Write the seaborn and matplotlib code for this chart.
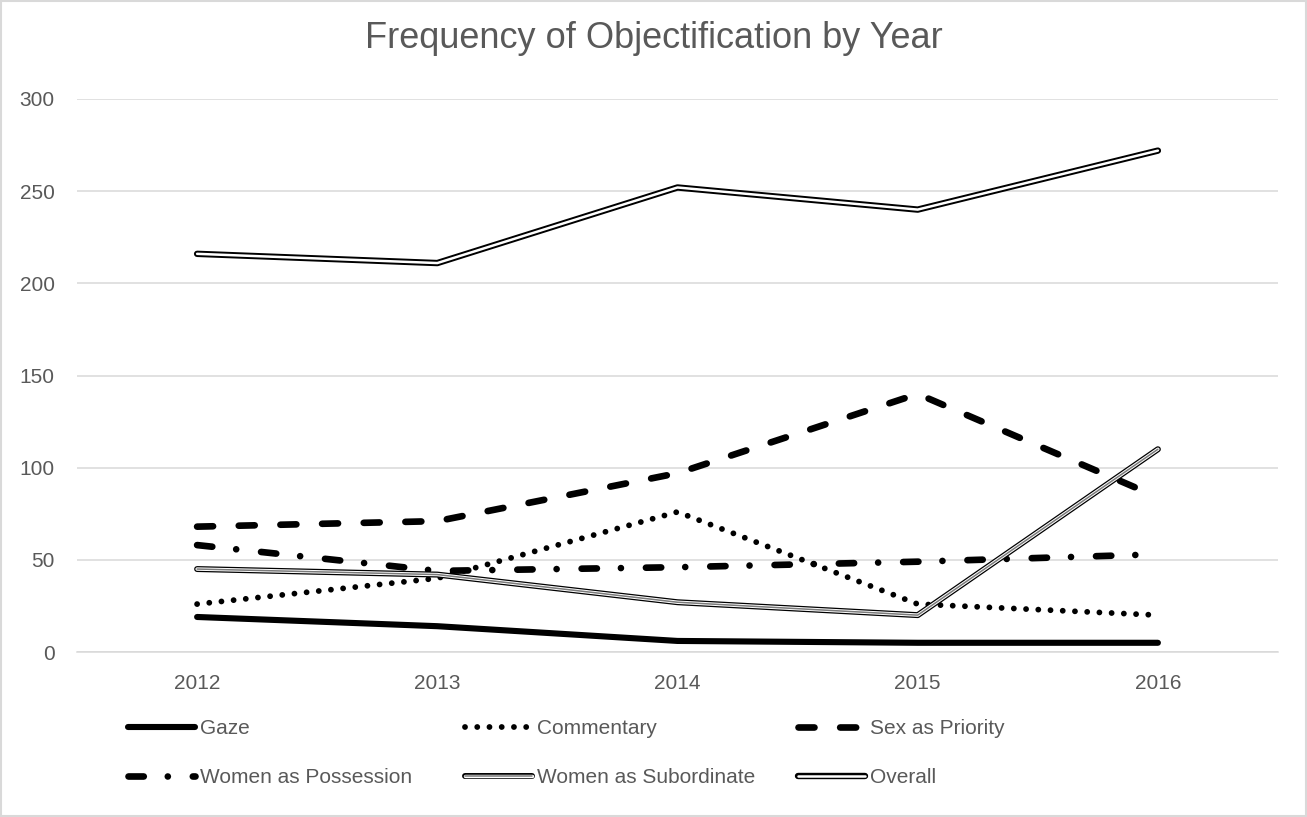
import matplotlib
matplotlib.use("Agg")
import matplotlib.pyplot as plt
from matplotlib.lines import Line2D
from matplotlib.patches import Rectangle
import seaborn as sns
import pandas as pd

years = ["2012", "2013", "2014", "2015", "2016"]
gaze = [19, 14, 6, 5, 5]
commentary = [26, 40, 76, 26, 20]
sex_priority = [68, 71, 97, 140, 84]
women_possession = [58, 44, 46, 49, 53]
women_subordinate = [45, 42, 27, 20, 110]
overall = [216, 211, 252, 240, 272]

title = "Frequency of Objectification by Year"
yticks = [0, 50, 100, 150, 200, 250, 300]

sns.set_theme(style="white")
plt.rcParams["font.family"] = ["Liberation Sans", "DejaVu Sans"]
plt.rcParams["lines.scale_dashes"] = False

TXT = "#595959"
GRID = "#d9d9d9"

fig = plt.figure(figsize=(13.07, 8.17), dpi=100)
ax = fig.add_axes([77/1307, 1-652/817, (1278-77)/1307, (652-99)/817])

df = pd.DataFrame({"year": years, "Gaze": gaze, "Commentary": commentary,
                   "Sex as Priority": sex_priority,
                   "Women as Possession": women_possession,
                   "Women as Subordinate": women_subordinate,
                   "Overall": overall})

styles = {
    "Gaze": [dict(color="black", lw=4.4, solid_capstyle="round")],
    "Commentary": [dict(color="black", lw=4.2, linestyle=(0, (0.01, 8.8)), dash_capstyle="round")],
    "Sex as Priority": [dict(color="black", lw=4.8, linestyle=(0, (11.5, 18.5)), dash_capstyle="round")],
    "Women as Possession": [dict(color="black", lw=4.8, linestyle=(0, (11.0, 17.3, 0.01, 18)), dash_capstyle="round")],
    "Women as Subordinate": [dict(color="black", lw=4.3, solid_capstyle="round"),
                             dict(color="white", lw=2.5, solid_capstyle="round"),
                             dict(color="#7a7a7a", lw=1.1, solid_capstyle="round")],
    "Overall": [dict(color="black", lw=4.6, solid_capstyle="round"),
                dict(color="white", lw=1.8, solid_capstyle="round")],
}

order = ["Gaze", "Commentary", "Sex as Priority", "Women as Possession",
         "Women as Subordinate", "Overall"]
for i, name in enumerate(order):
    for kw in styles[name]:
        sns.lineplot(data=df, x="year", y=name, ax=ax, legend=False,
                     zorder=3 + i, **kw)

ax.set_xlim(-0.5, len(years) - 0.5)
ax.set_ylim(0, 300)
ax.set_yticks(yticks)
ax.set_xlabel("")
ax.set_ylabel("")
ax.grid(axis="y", color=GRID, lw=1.1)
ax.grid(axis="x", visible=False)
ax.set_axisbelow(True)
for s in ["top", "right", "left"]:
    ax.spines[s].set_visible(False)
ax.spines["bottom"].set_color(GRID)
ax.spines["bottom"].set_linewidth(1.1)
ax.tick_params(axis="both", length=0, labelsize=15, colors=TXT)
ax.tick_params(axis="y", pad=16)
ax.tick_params(axis="x", pad=16)

fig.text(0.5, 1 - 39/817, title, ha="center", va="center", fontsize=26, color=TXT)

def handle(name):
    hs = [Line2D([], [], **{k: v for k, v in kw.items()}) for kw in styles[name]]
    return tuple(hs) if len(hs) > 1 else hs[0]

cols = [("Gaze", "Women as Possession"), ("Commentary", "Women as Subordinate"),
        ("Sex as Priority", "Overall")]
col_x = [128, 465, 798]
for (a, b), x in zip(cols, col_x):
    leg = fig.legend([handle(a), handle(b)], [a, b], loc="upper left",
                     bbox_to_anchor=(x/1307, 1 - 719/817), frameon=False,
                     fontsize=15, labelcolor=TXT, handlelength=3.2,
                     handletextpad=0.25, labelspacing=1.45, borderpad=0,
                     borderaxespad=0)

fig.patches.append(Rectangle((0.001, 0.001), 0.998, 0.998, transform=fig.transFigure,
                             fill=False, edgecolor=GRID, lw=1.5))

fig.savefig("out.png", dpi=100)
